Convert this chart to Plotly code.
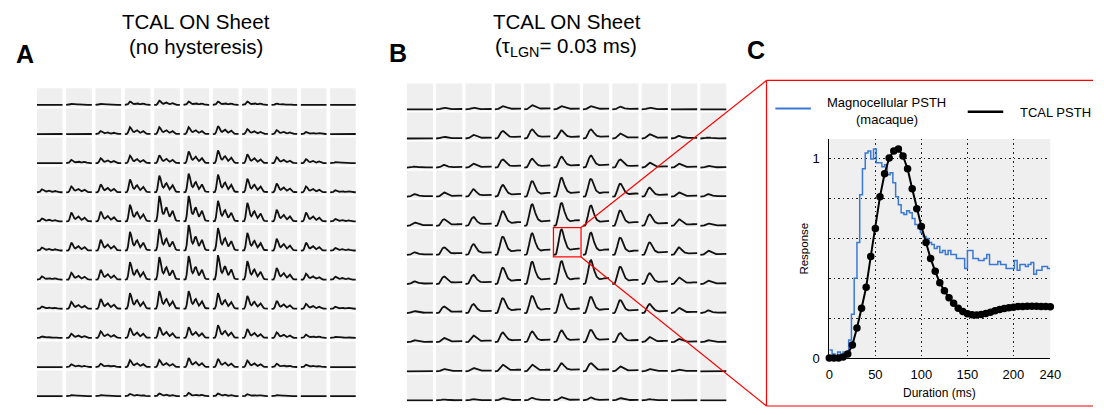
import plotly.graph_objects as go

# ---------------- data ----------------
# Panel A: peak height of each cell's response (11 rows x 11 columns, px-like units)
A_PEAK = [
    [0, 1, 1, 3.3, 4.3, 3.3, 3.3, 3.3, 1.5, 0.5, 0],
    [0.3, 0.7, 3, 7, 7, 7, 8, 5, 4, 2, 0.5],
    [0.7, 3.3, 5, 7.5, 8, 12, 13, 9, 6, 4, 1],
    [3, 6, 8, 13, 17, 19, 18, 14, 9, 6, 2],
    [3, 9, 10, 17, 26, 26, 21, 19, 12, 9, 2.5],
    [3, 8, 11, 19, 22, 26, 23, 18, 12, 8, 2.5],
    [3.3, 7, 10, 18, 23, 24, 25, 19, 12, 6, 3],
    [2.3, 7, 10, 16, 18, 18, 16, 13, 8, 5, 2],
    [1.7, 4.3, 6.7, 10, 11, 11, 13, 9, 5.7, 3.3, 1],
    [0.5, 2.7, 3.3, 7, 7.3, 9.3, 8.3, 6.7, 3.3, 2.3, 0.3],
    [0, 1, 1, 2.3, 2.7, 3.3, 2.7, 2, 1, 0.5, 0],
]
# Panel A: normalised response time course (no hysteresis, oscillating)
A_SHAPE = [0, 0, 0.02, 0.2, 0.65, 1.0, 0.85, 0.55, 0.35, 0.28, 0.35, 0.5, 0.55,
           0.42, 0.25, 0.18, 0.25, 0.38, 0.42, 0.3, 0.15, 0.06, 0.03, 0.02, 0.02, 0.02]

# Panel B: peak height of each cell's response
B_PEAK = [
    [0.5, 1.7, 1.7, 3.3, 4.3, 3.3, 3.3, 2.7, 1.7, 0.7, 0],
    [0.7, 1.7, 3.7, 7.7, 9.3, 8.3, 9.3, 5, 4.3, 2.7, 1],
    [1, 2.7, 4, 8.3, 9, 11, 12.3, 8.3, 5, 4, 1.7],
    [2.7, 4.3, 7.7, 12, 16, 19.3, 18.3, 13.3, 9.3, 4.3, 2.7],
    [3.3, 6.7, 9, 15, 22, 23.3, 20.7, 15.7, 11.7, 6.7, 2.3],
    [2.7, 7.7, 11, 18.7, 22, 26, 22.7, 17.7, 12.7, 7.7, 4.3],
    [2.7, 7.7, 9.3, 16.7, 22.7, 23.3, 24.3, 17.7, 11, 6.7, 3.3],
    [2, 6.7, 9.3, 15.3, 17.7, 19.3, 16.7, 13.3, 9.3, 5.3, 2.7],
    [2, 4.3, 6.7, 10, 11, 12, 12.7, 9.3, 5.3, 3.3, 2],
    [0.7, 2.3, 3.3, 6.7, 6.7, 8.3, 8.3, 5, 2.3, 1.7, 0.5],
    [0, 1, 1.3, 2.3, 2.7, 3.3, 3, 2.3, 1.3, 0.7, 0],
]

# Panel C: TCAL PSTH (ms, response)
TCAL_T = [0, 5, 10, 15, 20, 25, 30, 35, 40, 45, 50, 55, 60, 65, 70, 75, 80, 85, 90, 95,
          100, 105, 110, 115, 120, 125, 130, 135, 140, 145, 150, 155, 160, 165, 170, 175,
          180, 185, 190, 195, 200, 205, 210, 215, 220, 225, 230, 235, 240]
TCAL_R = [0, 0, 0, 0.005, 0.02, 0.065, 0.15, 0.25, 0.355, 0.51, 0.65, 0.81, 0.925, 1.005,
          1.04, 1.05, 1.015, 0.95, 0.85, 0.75, 0.66, 0.58, 0.5, 0.435, 0.378, 0.338, 0.303,
          0.275, 0.25, 0.233, 0.222, 0.217, 0.216, 0.218, 0.223, 0.23, 0.237, 0.243, 0.248,
          0.252, 0.255, 0.258, 0.259, 0.26, 0.26, 0.26, 0.259, 0.258, 0.257]

# Panel C: Magnocellular PSTH (macaque), bin start (ms) and response
MAGNO_T = [0, 3, 6, 9, 12, 15, 18, 21, 24, 27, 30, 33, 36, 39, 42, 45, 48, 51, 54, 57,
           60, 63, 66, 69, 72, 75, 78, 81, 84, 87, 90, 93, 96, 99, 102, 105, 108, 111, 114,
           117, 120, 123, 126, 129, 132, 135, 138, 141, 144, 147, 150, 153, 156, 159, 162,
           165, 168, 171, 174, 177, 180, 183, 186, 189, 192, 195, 198, 201, 204, 207, 210,
           213, 216, 219, 222, 225, 228, 231, 234, 237, 240]
MAGNO_R = [0.04, 0.02, 0.0, 0.03, 0.0, 0.03, 0.02, 0.09, 0.22, 0.40, 0.58, 0.82, 0.95,
           1.03, 1.04, 1.0, 1.05, 0.98, 0.98, 0.96, 0.97, 0.92, 0.93, 0.88, 0.81, 0.77,
           0.73, 0.72, 0.74, 0.73, 0.70, 0.67, 0.65, 0.63, 0.61, 0.60, 0.58, 0.57, 0.55,
           0.56, 0.53, 0.54, 0.52, 0.54, 0.52, 0.52, 0.50, 0.50, 0.50, 0.45, 0.54, 0.54,
           0.50, 0.50, 0.49, 0.49, 0.50, 0.52, 0.47, 0.47, 0.47, 0.485, 0.47, 0.47, 0.45,
           0.45, 0.45, 0.49, 0.44, 0.47, 0.47, 0.46, 0.47, 0.48, 0.42, 0.44, 0.44, 0.46,
           0.46, 0.45, 0.45]

# ---------------- layout helpers ----------------
W, H = 1104, 415
FONT = "Liberation Sans, Arial, Helvetica, sans-serif"
CELL_BG = "#efefef"
N = 11


def px(x):
    return x / W


def py(y):
    return 1 - y / H


def grid_xy(peaks, shape, cell_w, base_off, px_per_unit):
    top = max(shape)
    xs, ys = [], []
    n = len(shape)
    for r in range(N):
        for c in range(N):
            amp = peaks[r][c] / px_per_unit / top
            for j, v in enumerate(shape):
                xs.append(c + cell_w * j / (n - 1))
                ys.append((N - 1 - r) + base_off + amp * v)
            xs.append(None)
            ys.append(None)
    return xs, ys


def cell_shapes(xref, yref, cell_w, cell_h):
    out = []
    for r in range(N):
        for c in range(N):
            out.append(dict(type="rect", xref=xref, yref=yref, layer="below",
                            x0=c, x1=c + cell_w, y0=(N - 1 - r), y1=(N - 1 - r) + cell_h,
                            fillcolor=CELL_BG, line=dict(width=0)))
    return out


# panel A geometry
A_CW, A_CH, A_PITCH = 0.875, 0.933, 29.7
# panel B geometry
B_CW, B_CH, B_PITCH = 0.89, 0.935, 29.7

fig = go.Figure()

ax, ay = grid_xy(A_PEAK, A_SHAPE, A_CW, 0.055, A_PITCH)
fig.add_trace(go.Scatter(x=ax, y=ay, mode="lines", xaxis="x", yaxis="y",
                         line=dict(color="#111111", width=1.8), hoverinfo="skip",
                         showlegend=False))

bx, by = grid_xy(B_PEAK, TCAL_R, B_CW, 0.04, B_PITCH)
fig.add_trace(go.Scatter(x=bx, y=by, mode="lines", xaxis="x2", yaxis="y2",
                         line=dict(color="#111111", width=1.8), hoverinfo="skip",
                         showlegend=False))

fig.add_trace(go.Scatter(x=MAGNO_T, y=MAGNO_R, mode="lines", xaxis="x3", yaxis="y3",
                         line=dict(color="#3a78d6", width=1.5, shape="hv"),
                         name="Magnocellular PSTH (macaque)", showlegend=False))
fig.add_trace(go.Scatter(x=TCAL_T, y=TCAL_R, mode="lines+markers", xaxis="x3", yaxis="y3",
                         line=dict(color="black", width=2),
                         marker=dict(color="black", size=7.5), cliponaxis=False,
                         name="TCAL PSTH", showlegend=False))

shapes = []
shapes += cell_shapes("x", "y", A_CW, A_CH)
shapes += cell_shapes("x2", "y2", B_CW, B_CH)
# panel C background
shapes.append(dict(type="rect", xref="x3 domain", yref="y3 domain", layer="below",
                   x0=0, x1=1, y0=0, y1=1, fillcolor=CELL_BG, line=dict(width=0)))
# zoom rectangle on centre cell of B
shapes.append(dict(type="rect", xref="x2", yref="y2", layer="above",
                   x0=4.995, x1=5.935, y0=4.97, y1=5.98,
                   line=dict(color="red", width=1.3)))
# connectors and C frame (open on the right, where the page ends)
red = dict(color="red", width=1.2)
for (x0, y0, x1, y1) in [(585, 232, 773, 82), (585, 262, 773, 414),
                         (773, 82, 1104, 82), (773, 414, 1104, 414), (773, 82, 773, 414)]:
    shapes.append(dict(type="line", xref="paper", yref="paper", layer="above",
                       x0=px(x0), y0=py(y0), x1=px(x1), y1=py(y1), line=red))
# legend samples
shapes.append(dict(type="line", xref="paper", yref="paper", x0=px(782), x1=px(818),
                   y0=py(110.7), y1=py(110.7), line=dict(color="#3a78d6", width=2)))
shapes.append(dict(type="line", xref="paper", yref="paper", x0=px(977), x1=px(1013),
                   y0=py(114), y1=py(114), line=dict(color="black", width=2.5)))


def ann(text, x, y, size, bold=False, xanchor="center", angle=0):
    return dict(text=f"<b>{text}</b>" if bold else text, x=px(x), y=py(y),
                xref="paper", yref="paper", xanchor=xanchor, yanchor="middle",
                showarrow=False, textangle=angle,
                font=dict(family=FONT, size=size, color="black"))


annotations = [
    ann("TCAL ON Sheet", 195, 21.7, 20.5),
    ann("(no hysteresis)", 195, 47.5, 20.5),
    ann("TCAL ON Sheet", 571, 21.7, 20.5),
    ann("(τ<sub>LGN</sub>= 0.03 ms)", 570, 47.5, 20.5),
    ann("A", 20.8, 55, 25, bold=True),
    ann("B", 399, 54, 25, bold=True),
    ann("C", 762, 51, 25, bold=True),
    ann("Magnocellular PSTH", 895, 104.7, 13),
    ann("(macaque)", 895, 121.7, 13),
    ann("TCAL PSTH", 1028, 114.5, 13, xanchor="left"),
    ann("Response", 811, 253.5, 11.5, angle=-90),
    ann("Duration (ms)", 948.7, 401, 12),
]

hidden = dict(visible=False, showgrid=False, zeroline=False, fixedrange=True)
grid_dot = dict(showgrid=True, gridcolor="#222222", griddash="1.5px,3px", gridwidth=1,
                tickmode="array", ticks="")

fig.update_layout(
    width=W, height=H,
    margin=dict(l=0, r=0, t=0, b=0),
    paper_bgcolor="white", plot_bgcolor="rgba(0,0,0,0)",
    font=dict(family=FONT, color="black"),
    showlegend=False,
    xaxis=dict(domain=[px(33.3), px(356.7)], range=[0, 10.875], anchor="y", **hidden),
    yaxis=dict(domain=[py(405.6), py(90)], range=[0, 10.626], anchor="x", **hidden),
    xaxis2=dict(domain=[px(408.3), px(732.5)], range=[0, 10.89], anchor="y2", **hidden),
    yaxis2=dict(domain=[py(409.5), py(85)], range=[0, 10.935], anchor="x2", **hidden),
    xaxis3=dict(domain=[px(836.7), px(1060.7)], range=[0, 240], anchor="y3",
                showline=True, linecolor="black", linewidth=1, zeroline=False,
                showgrid=False, ticks="", tickmode="array",
                tickvals=[0, 50, 100, 150, 200, 240],
                ticktext=["0", "50", "100", "150", "200", "240"],
                tickfont=dict(family=FONT, size=13, color="black"),
                ticklabelstandoff=4,
                minor=dict(tickvals=[50, 100, 150, 200], **grid_dot)),
    yaxis3=dict(domain=[py(365), py(141.7)], range=[0, 1.1], anchor="x3",
                showline=True, linecolor="black", linewidth=1, zeroline=False,
                showgrid=False, ticks="", tickmode="array",
                tickvals=[0, 1], ticktext=["0", "1"],
                tickfont=dict(family=FONT, size=13, color="black"),
                ticklabelstandoff=6,
                minor=dict(tickvals=[0.2, 0.4, 0.6, 0.8, 1.0], **grid_dot)),
    shapes=shapes,
    annotations=annotations,
)

fig.write_html("out.html", config=dict(displayModeBar=False))
